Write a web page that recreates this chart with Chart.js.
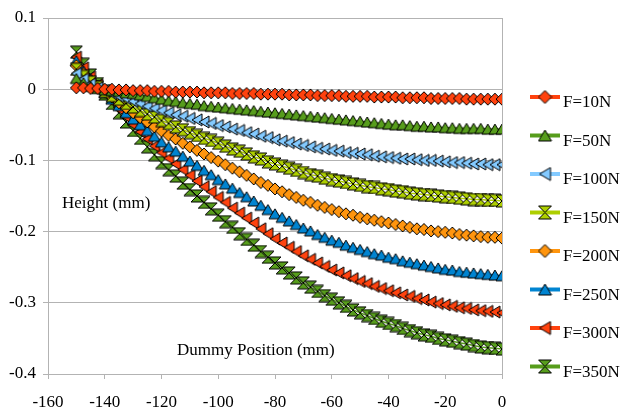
<!DOCTYPE html>
<html>
<head>
<meta charset="utf-8">
<script src="https://cdn.jsdelivr.net/npm/chart.js@4.4.1/dist/chart.umd.min.js"></script>
<style>
	html, body { margin: 0; padding: 0; background: #fff; }
	#wrap { position: relative; width: 622px; height: 410px; }
</style>
</head>
<body>
<div id="wrap"><canvas id="chart"></canvas></div>
<script>
// dummy position along the track (mm)
const positions = [
	-150, -147.5, -145, -142.5, -140, -137.5, -135, -132.5, -130, -127.5,
	-125, -122.5, -120, -117.5, -115, -112.5, -110, -107.5, -105, -102.5,
	-100, -97.5, -95, -92.5, -90, -87.5, -85, -82.5, -80, -77.5,
	-75, -72.5, -70, -67.5, -65, -62.5, -60, -57.5, -55, -52.5,
	-50, -47.5, -45, -42.5, -40, -37.5, -35, -32.5, -30, -27.5,
	-25, -22.5, -20, -17.5, -15, -12.5, -10, -7.5, -5, -2.5, 0,
];

// height (mm) for each load
const f10 = [
	0.002, 0.002, 0.001, 0.001, 0.000, 0.000, -0.001, -0.001, -0.002, -0.002,
	-0.002, -0.003, -0.003, -0.003, -0.004, -0.004, -0.004, -0.004, -0.005, -0.005,
	-0.005, -0.005, -0.006, -0.006, -0.006, -0.006, -0.007, -0.007, -0.007, -0.007,
	-0.008, -0.008, -0.008, -0.008, -0.009, -0.009, -0.009, -0.009, -0.010, -0.010,
	-0.010, -0.010, -0.011, -0.011, -0.011, -0.011, -0.012, -0.012, -0.012, -0.012,
	-0.013, -0.013, -0.013, -0.013, -0.013, -0.014, -0.014, -0.014, -0.014, -0.014, -0.014,
];
const f50 = [
	0.015, 0.009, 0.004, 0.001, -0.001, -0.002, -0.003, -0.005, -0.006, -0.008,
	-0.010, -0.012, -0.014, -0.016, -0.017, -0.019, -0.020, -0.021, -0.023, -0.024,
	-0.025, -0.026, -0.027, -0.028, -0.029, -0.030, -0.031, -0.032, -0.033, -0.034,
	-0.035, -0.036, -0.037, -0.038, -0.039, -0.040, -0.041, -0.042, -0.043, -0.044,
	-0.045, -0.046, -0.047, -0.048, -0.049, -0.050, -0.050, -0.051, -0.052, -0.052,
	-0.053, -0.053, -0.054, -0.054, -0.055, -0.055, -0.055, -0.055, -0.056, -0.056, -0.056,
];
const f100 = [
	0.022, 0.014, 0.007, 0.002, -0.002, -0.006, -0.010, -0.013, -0.017, -0.020,
	-0.024, -0.027, -0.030, -0.033, -0.036, -0.038, -0.041, -0.043, -0.046, -0.048,
	-0.051, -0.053, -0.056, -0.058, -0.061, -0.063, -0.066, -0.068, -0.071, -0.073,
	-0.075, -0.077, -0.079, -0.081, -0.083, -0.084, -0.086, -0.087, -0.089, -0.090,
	-0.091, -0.092, -0.094, -0.095, -0.096, -0.097, -0.098, -0.098, -0.099, -0.100,
	-0.100, -0.101, -0.102, -0.103, -0.103, -0.104, -0.105, -0.105, -0.106, -0.106, -0.106,
];
const f150 = [
	0.028, 0.018, 0.010, 0.003, -0.003, -0.009, -0.014, -0.020, -0.025, -0.030,
	-0.035, -0.039, -0.044, -0.048, -0.053, -0.057, -0.061, -0.065, -0.069, -0.072,
	-0.076, -0.080, -0.084, -0.087, -0.091, -0.095, -0.098, -0.102, -0.105, -0.108,
	-0.111, -0.114, -0.117, -0.120, -0.122, -0.125, -0.127, -0.129, -0.131, -0.133,
	-0.135, -0.137, -0.138, -0.140, -0.141, -0.143, -0.144, -0.146, -0.147, -0.148,
	-0.149, -0.150, -0.151, -0.152, -0.153, -0.154, -0.155, -0.155, -0.156, -0.156, -0.157,
];
const f200 = [
	0.033, 0.022, 0.012, 0.004, -0.004, -0.011, -0.019, -0.026, -0.033, -0.040,
	-0.046, -0.053, -0.059, -0.065, -0.070, -0.076, -0.081, -0.086, -0.091, -0.096,
	-0.101, -0.106, -0.111, -0.116, -0.121, -0.126, -0.131, -0.135, -0.140, -0.144,
	-0.148, -0.152, -0.156, -0.159, -0.163, -0.166, -0.169, -0.172, -0.175, -0.177,
	-0.180, -0.182, -0.184, -0.186, -0.188, -0.190, -0.192, -0.194, -0.196, -0.197,
	-0.199, -0.200, -0.201, -0.202, -0.204, -0.205, -0.206, -0.207, -0.208, -0.208, -0.209,
];
const f250 = [
	0.040, 0.026, 0.015, 0.005, -0.005, -0.014, -0.023, -0.033, -0.042, -0.050,
	-0.058, -0.066, -0.074, -0.081, -0.087, -0.094, -0.101, -0.107, -0.114, -0.120,
	-0.127, -0.133, -0.139, -0.145, -0.151, -0.157, -0.163, -0.169, -0.175, -0.180,
	-0.185, -0.190, -0.195, -0.199, -0.204, -0.208, -0.212, -0.215, -0.219, -0.222,
	-0.225, -0.228, -0.231, -0.233, -0.236, -0.238, -0.241, -0.243, -0.245, -0.247,
	-0.249, -0.251, -0.253, -0.254, -0.256, -0.257, -0.258, -0.259, -0.260, -0.261, -0.262,
];
const f300 = [
	0.045, 0.030, 0.017, 0.006, -0.006, -0.017, -0.028, -0.039, -0.050, -0.060,
	-0.070, -0.080, -0.089, -0.097, -0.105, -0.113, -0.121, -0.129, -0.137, -0.144,
	-0.152, -0.159, -0.167, -0.174, -0.181, -0.188, -0.196, -0.203, -0.210, -0.216,
	-0.222, -0.228, -0.234, -0.239, -0.244, -0.249, -0.254, -0.258, -0.262, -0.266,
	-0.270, -0.273, -0.277, -0.280, -0.283, -0.286, -0.289, -0.291, -0.294, -0.296,
	-0.299, -0.301, -0.303, -0.305, -0.307, -0.308, -0.310, -0.311, -0.312, -0.313, -0.314,
];
const f350 = [
	0.052, 0.035, 0.020, 0.008, -0.007, -0.020, -0.033, -0.046, -0.058, -0.069,
	-0.081, -0.092, -0.103, -0.113, -0.122, -0.132, -0.141, -0.150, -0.159, -0.168,
	-0.177, -0.186, -0.194, -0.203, -0.211, -0.219, -0.228, -0.236, -0.244, -0.251,
	-0.258, -0.265, -0.272, -0.278, -0.284, -0.290, -0.295, -0.300, -0.305, -0.310,
	-0.314, -0.318, -0.322, -0.326, -0.329, -0.332, -0.336, -0.339, -0.342, -0.345,
	-0.347, -0.350, -0.352, -0.354, -0.356, -0.358, -0.360, -0.362, -0.363, -0.364, -0.365,
];

const seriesLabels = ['F=10N', 'F=50N', 'F=100N', 'F=150N', 'F=200N', 'F=250N', 'F=300N', 'F=350N'];
const seriesValues = [f10, f50, f100, f150, f200, f250, f300, f350];
const seriesColors = ['#ff420e', '#579d1c', '#83caff', '#aecf00', '#ff950e', '#0084d1', '#ff420e', '#579d1c'];
const seriesShapes = ['diamond', 'up', 'left', 'hourglass', 'diamond', 'up', 'left', 'hourglass'];

const xTicks = { min: -160, max: 0, step: 20 };
const yTicks = { min: -0.4, max: 0.1, step: 0.1 };

const FONT = '"Liberation Serif", "DejaVu Serif", serif';

// marker images
function makeMarker(shape, fill, size) {
	const c = document.createElement('canvas');
	const s = size + 2;
	c.width = s;
	c.height = s;
	const g = c.getContext('2d');
	const a = 1, b = s - 1, m = s / 2;
	g.beginPath();
	if (shape === 'diamond') {
		g.moveTo(m, a); g.lineTo(b, m); g.lineTo(m, b); g.lineTo(a, m);
	} else if (shape === 'up') {
		g.moveTo(m, a + 1); g.lineTo(b, b - 1); g.lineTo(a, b - 1);
	} else if (shape === 'left') {
		g.moveTo(a + 1, m); g.lineTo(b - 1, a); g.lineTo(b - 1, b);
	} else {
		g.moveTo(a, a); g.lineTo(b, a); g.lineTo(a, b); g.lineTo(b, b);
	}
	g.closePath();
	g.fillStyle = fill;
	g.fill();
	g.strokeStyle = '#000';
	g.lineWidth = 1;
	g.stroke();
	return c;
}

const pointImgs = seriesShapes.map((s, i) => makeMarker(s, seriesColors[i], 12));
const legendImgs = seriesShapes.map((s, i) => makeMarker(s, seriesColors[i], 13));

// legend on the right + titles in plot area
const extrasPlugin = {
	id: 'extras',
	afterDraw(chart) {
		const ctx = chart.ctx;
		const area = chart.chartArea;
		ctx.save();
		ctx.fillStyle = '#000';
		ctx.font = '17px ' + FONT;
		ctx.textBaseline = 'middle';
		ctx.textAlign = 'left';
		ctx.fillText('Height (mm)', area.left + 14, 204);
		ctx.fillText('Dummy Position (mm)', area.left + 129, 351);

		seriesLabels.forEach((label, i) => {
			const y = 97 + i * 38.5;
			ctx.strokeStyle = seriesColors[i];
			ctx.lineWidth = 4;
			ctx.beginPath();
			ctx.moveTo(530, y);
			ctx.lineTo(560, y);
			ctx.stroke();
			const img = legendImgs[i];
			ctx.drawImage(img, 545 - img.width / 2, y - img.height / 2);
			ctx.fillStyle = '#000';
			ctx.fillText(label, 563, y + 6);
		});
		ctx.restore();
	},
};

const ctx = document.getElementById('chart').getContext('2d');

const datasets = seriesLabels.map((label, i) => ({
	label: label,
	data: positions.map((x, j) => ({ x: x, y: seriesValues[i][j] })),
	borderColor: seriesColors[i],
	backgroundColor: seriesColors[i],
	borderWidth: 1.5,
	pointStyle: pointImgs[i],
	pointRadius: 5,
	showLine: true,
	tension: 0,
}));

new Chart(ctx, {
	type: 'scatter',
	data: { datasets: datasets },
	options: {
		responsive: true,
		maintainAspectRatio: false,
		animation: false,
		events: [],
		layout: { padding: { top: 18, right: 120, left: 0, bottom: 0 } },
		plugins: {
			legend: { display: false },
			tooltip: { enabled: false },
		},
		scales: {
			x: {
				type: 'linear',
				min: xTicks.min,
				max: xTicks.max,
				afterFit: function (scale) { scale.height = 36; },
				border: { color: '#b3b3b3' },
				grid: {
					color: c => (c.tick && c.tick.value === 0 ? '#b3b3b3' : 'rgba(0,0,0,0)'),
					tickColor: '#b3b3b3',
					tickLength: 5,
				},
				ticks: {
					stepSize: xTicks.step,
					color: '#000',
					padding: 13,
					maxRotation: 0,
					font: { family: FONT, size: 17 },
				},
			},
			y: {
				min: yTicks.min,
				max: yTicks.max,
				afterFit: function (scale) { scale.width = 48; },
				border: { color: '#b3b3b3' },
				grid: { color: '#b3b3b3', tickColor: '#b3b3b3', tickLength: 5 },
				ticks: {
					stepSize: yTicks.step,
					color: '#000',
					padding: 7,
					font: { family: FONT, size: 17 },
				},
			},
		},
	},
	plugins: [extrasPlugin],
});
</script>
</body>
</html>
